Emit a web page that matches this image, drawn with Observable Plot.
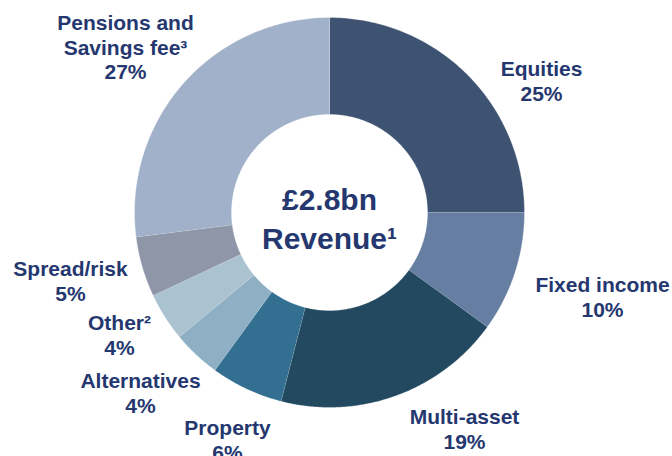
<!DOCTYPE html>
<html>
<head>
<meta charset="utf-8">
<script src="https://cdn.jsdelivr.net/npm/d3@7"></script>
<script src="https://cdn.jsdelivr.net/npm/@observablehq/plot@0.6"></script>
<style>
  html, body { margin: 0; padding: 0; background: #ffffff; }
  #chart { width: 672px; height: 456px; overflow: hidden; }
</style>
</head>
<body>
<div id="chart"></div>
<script>
// ---- data ----
const categories = ["Equities", "Fixed income", "Multi-asset", "Property", "Alternatives", "Other", "Spread/risk", "Pensions and Savings fee"];
const labels = ["Equities", "Fixed income", "Multi-asset", "Property", "Alternatives", "Other²", "Spread/risk", "Pensions and\nSavings fee³"];
const shares = [25, 10, 19, 6, 4, 4, 5, 27];
const colors = ["#3d5371", "#657ea2", "#22495f", "#336f90", "#8fb0c4", "#abc2d1", "#8e96a8", "#a1b1c9"];
const centerLabel = "£2.8bn\nRevenue¹";

// ---- layout (pixel offsets from donut centre) ----
const outerR = 195, innerR = 98;
const labelDX = [212, 273, 135, -102, -189, -210, -259, -204];
const labelDY = [-154, 62, 194, 205, 158, 100, 46, -200];

// ---- build slice polygons from the values ----
const total = d3.sum(shares);
const ends = d3.cumsum(shares);
const ringPts = [];
categories.forEach((c, i) => {
  const a0 = 2 * Math.PI * (ends[i] - shares[i]) / total;
  const a1 = 2 * Math.PI * ends[i] / total;
  const n = Math.max(8, Math.ceil((a1 - a0) / 0.01));
  for (let k = 0; k <= n; k++) {
    const a = a0 + (a1 - a0) * k / n;
    ringPts.push({cat: c, x: outerR * Math.sin(a), y: -outerR * Math.cos(a)});
  }
  for (let k = n; k >= 0; k--) {
    const a = a0 + (a1 - a0) * k / n;
    ringPts.push({cat: c, x: innerR * Math.sin(a), y: -innerR * Math.cos(a)});
  }
});

const labelData = categories.map((c, i) => ({
  text: `${labels[i]}\n${shares[i]}%`, x: labelDX[i], y: labelDY[i]
}));

const textColor = "#25376f";

const chart = Plot.plot({
  width: 672,
  height: 456,
  margin: 0,
  style: {fontFamily: "'Liberation Sans', Arial, sans-serif", background: "#ffffff", overflow: "hidden"},
  x: {domain: [-329, 343], range: [0, 672], axis: null},
  y: {domain: [-212, 244], range: [0, 456], axis: null},
  color: {domain: categories, range: colors},
  marks: [
    Plot.line(ringPts, {
      x: "x", y: "y", z: "cat", fill: "cat",
      stroke: "#ffffff", strokeWidth: 0.5, strokeOpacity: 0.6,
      curve: "linear"
    }),
    Plot.text(labelData, {
      x: "x", y: "y", text: "text",
      fill: textColor, fontSize: 21, fontWeight: "bold",
      lineAnchor: "top", textAnchor: "middle", lineHeight: 1.17
    }),
    Plot.text([centerLabel], {
      x: 0, y: -30, text: d => d,
      fill: textColor, fontSize: 30, fontWeight: "bold",
      lineAnchor: "top", textAnchor: "middle", lineHeight: 1.3
    })
  ]
});
document.getElementById("chart").appendChild(chart);
</script>
</body>
</html>
